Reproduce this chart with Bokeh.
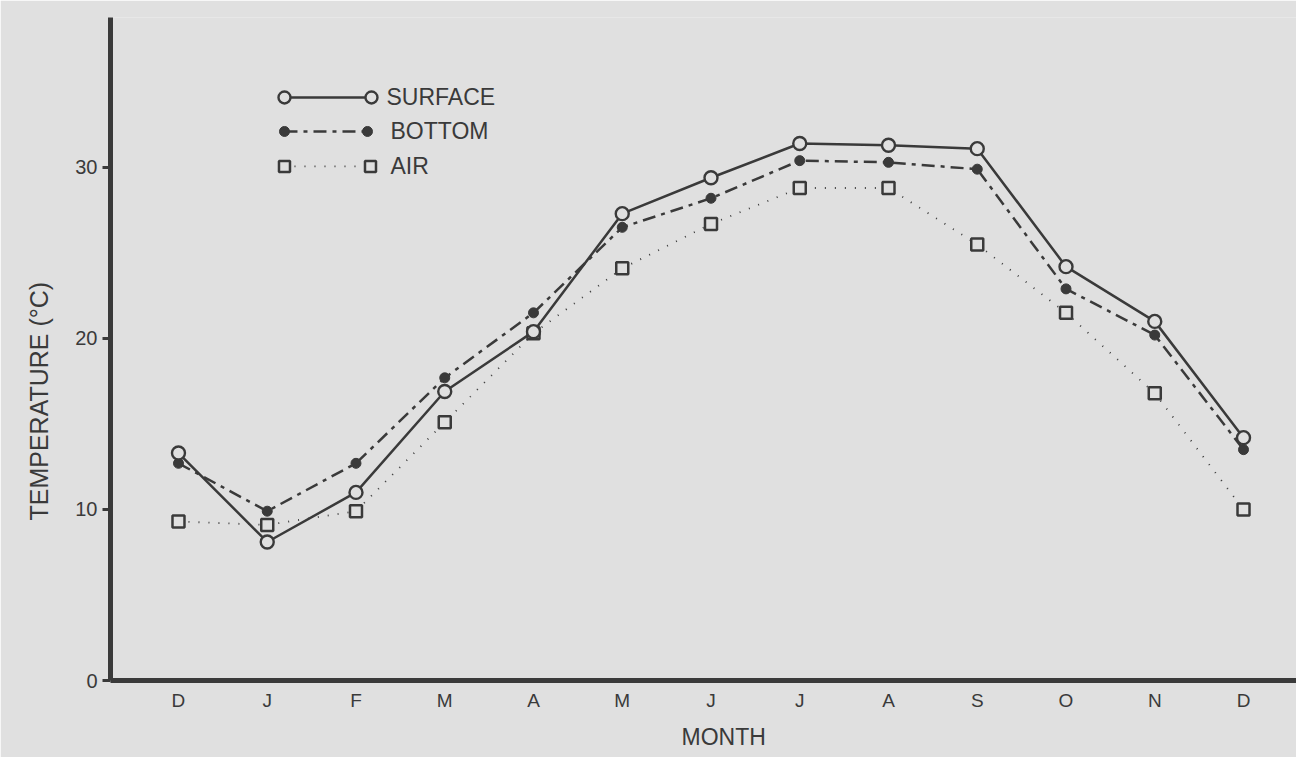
from bokeh.plotting import figure
from bokeh.models import Range1d, FixedTicker, Label, Title, ColumnDataSource
from bokeh.embed import file_html
from bokeh.resources import INLINE

# ---- data ----
months = ["D", "J", "F", "M", "A", "M", "J", "J", "A", "S", "O", "N", "D"]
surface = [13.3, 8.1, 11.0, 16.9, 20.4, 27.3, 29.4, 31.4, 31.3, 31.1, 24.2, 21.0, 14.2]
bottom = [12.7, 9.9, 12.7, 17.7, 21.5, 26.5, 28.2, 30.4, 30.3, 29.9, 22.9, 20.2, 13.5]
air = [9.3, 9.1, 9.9, 15.1, 20.3, 24.1, 26.7, 28.8, 28.8, 25.5, 21.5, 16.8, 10.0]
y_ticks = [0, 10, 20, 30]
series_names = ["SURFACE", "BOTTOM", "AIR"]

BG = "#e0e0e0"
INK = "#3a3a3a"
FONT = "Liberation Sans"

idx = list(range(len(months)))

p = figure(width=1296, height=757, output_backend="svg", toolbar_location=None,
           x_range=Range1d(-0.766, 12.597), y_range=Range1d(0, 38.77),
           min_border_left=110, min_border_right=0, min_border_top=17, min_border_bottom=77)
p.background_fill_color = BG
p.border_fill_color = BG
p.outline_line_color = None
p.grid.visible = False

# axes
p.xaxis.ticker = FixedTicker(ticks=idx)
p.xaxis.major_label_overrides = {i: m for i, m in enumerate(months)}
p.yaxis.ticker = FixedTicker(ticks=y_ticks)
for ax in (p.xaxis[0], p.yaxis[0]):
    ax.axis_line_color = INK
    ax.axis_line_width = 5
    ax.major_label_text_font = FONT
    ax.major_label_text_color = INK
    ax.minor_tick_line_color = None
    ax.major_tick_line_color = INK
    ax.major_tick_line_width = 3
p.xaxis.major_label_text_font_size = "19px"
p.yaxis.major_label_text_font_size = "20px"
p.xaxis.major_tick_out = 0
p.xaxis.major_tick_in = 0
p.xaxis.major_label_standoff = 9
p.yaxis.major_tick_out = 8
p.yaxis.major_tick_in = 0
p.yaxis.major_label_standoff = 5

# axis titles (as side-panel titles so they can be placed like the original)
p.add_layout(Title(text="MONTH", text_font=FONT, text_font_size="23px",
                   text_font_style="normal", text_color=INK, align="left", offset=571,
                   vertical_align="bottom", standoff=16), "below")
p.add_layout(Title(text="TEMPERATURE  (°C)", text_font=FONT, text_font_size="25px",
                   text_font_style="normal", text_color=INK, align="left", offset=160,
                   vertical_align="top", standoff=36), "left")

# pixel -> data helpers (layout only)
def xd(px):
    return (px - 178) / 88.75

def yd(py):
    return (680 - py) / 17.1

# series
src = ColumnDataSource(dict(x=idx, surface=surface, bottom=bottom, air=air))
p.line("x", "air", source=src, line_color=INK, line_width=1.8, line_dash="1 9")
p.line("x", "bottom", source=src, line_color=INK, line_width=2.5, line_dash="13 6 4 6")
p.line("x", "surface", source=src, line_color=INK, line_width=2.5)
p.scatter("x", "air", source=src, marker="square", size=12, fill_color=BG,
          line_color=INK, line_width=2.5)
p.scatter("x", "bottom", source=src, marker="circle", size=10, fill_color=INK,
          line_color=INK, line_width=1)
p.scatter("x", "surface", source=src, marker="circle", size=13, fill_color=BG,
          line_color=INK, line_width=2.4)

# legend (custom, markers at both ends)
lx0, lx1 = xd(284), xd(371)
rows = [yd(97), yd(131), yd(166)]
p.line([lx0, lx1], [rows[0]] * 2, line_color=INK, line_width=2.5)
p.scatter([lx0, lx1], [rows[0]] * 2, marker="circle", size=12, fill_color=BG,
          line_color=INK, line_width=2.4)
p.line([lx0, xd(367)], [rows[1]] * 2, line_color=INK, line_width=2.5, line_dash="13 6 4 6")
p.scatter([lx0, xd(367)], [rows[1]] * 2, marker="circle", size=10, fill_color=INK,
          line_color=INK)
p.line([lx0, xd(370)], [rows[2]] * 2, line_color=INK, line_width=1.8, line_dash="1 9")
p.scatter([lx0, xd(370)], [rows[2]] * 2, marker="square", size=11, fill_color=BG,
          line_color=INK, line_width=2.5)
text_x = [xd(386), xd(390), xd(390)]
for name, tx, ty in zip(series_names, text_x, rows):
    p.add_layout(Label(x=tx, y=ty, text=name, text_font=FONT, text_font_size="23px",
                       text_color=INK, text_baseline="middle", text_align="left"))

open("out.html", "w").write(file_html(p, INLINE))
